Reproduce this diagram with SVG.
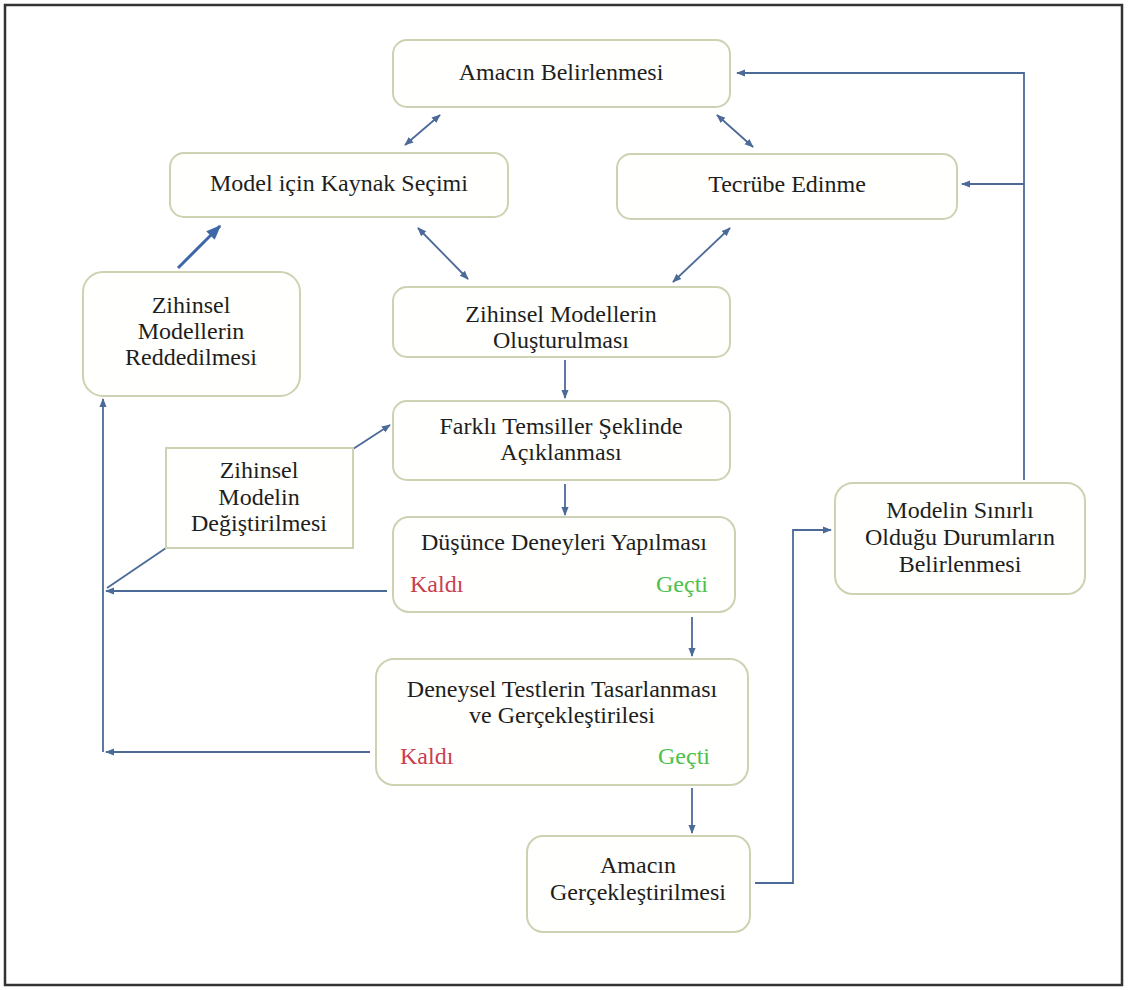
<svg xmlns="http://www.w3.org/2000/svg" width="1128" height="990" viewBox="0 0 1128 990">
<defs>
<style>
.box{fill:#fffffd;stroke:#cdd2b2;stroke-width:2}
.t{font-family:"Liberation Serif","Times New Roman",serif;font-size:24px;fill:#1e1e1e;text-anchor:middle}
.k{font-family:"Liberation Serif","Times New Roman",serif;font-size:24px;fill:#c8404f}
.g{font-family:"Liberation Serif","Times New Roman",serif;font-size:24px;fill:#4cc04c;text-anchor:end}
.c{fill:none;stroke:#4c6a98;stroke-width:1.8}
</style>
<marker id="ah" viewBox="0 0 10 10" refX="9" refY="5" markerWidth="9" markerHeight="9" orient="auto-start-reverse" markerUnits="userSpaceOnUse">
<path d="M0,1 L10,5 L0,9 Z" fill="#4c6a98"/>
</marker>
<marker id="ahb" viewBox="0 0 10 10" refX="9" refY="5" markerWidth="15" markerHeight="15" orient="auto" markerUnits="userSpaceOnUse">
<path d="M0,1 L10,5 L0,9 Z" fill="#3f66a8"/>
</marker>
</defs>
<rect x="0" y="0" width="1128" height="990" fill="#fff"/>
<rect x="5" y="5" width="1117" height="980" fill="none" stroke="#333" stroke-width="2.5"/>

<g id="connectors">
<line class="c" x1="440" y1="115" x2="405" y2="145" marker-start="url(#ah)" marker-end="url(#ah)"/>
<line class="c" x1="717" y1="115" x2="753" y2="147" marker-start="url(#ah)" marker-end="url(#ah)"/>
<line class="c" x1="418" y1="228" x2="468" y2="279" marker-start="url(#ah)" marker-end="url(#ah)"/>
<line class="c" x1="730" y1="228" x2="673" y2="282" marker-start="url(#ah)" marker-end="url(#ah)"/>
<line x1="178" y1="268" x2="220" y2="226" stroke="#3f66a8" stroke-width="3" marker-end="url(#ahb)"/>
<line class="c" x1="565" y1="360" x2="565" y2="398" marker-end="url(#ah)"/>
<line class="c" x1="565" y1="484" x2="565" y2="515" marker-end="url(#ah)"/>
<line class="c" x1="692" y1="617" x2="692" y2="656" marker-end="url(#ah)"/>
<line class="c" x1="692" y1="788" x2="692" y2="833" marker-end="url(#ah)"/>
<polyline class="c" points="755,883 793,883 793,530 831,530" marker-end="url(#ah)"/>
<polyline class="c" points="1024,480 1024,73 737,73" marker-end="url(#ah)"/>
<line class="c" x1="1024" y1="184" x2="962" y2="184" marker-end="url(#ah)"/>
<line class="c" x1="387" y1="591" x2="106" y2="591" marker-end="url(#ah)"/>
<line class="c" x1="166" y1="548" x2="107" y2="588"/>
<line class="c" x1="353" y1="449" x2="390" y2="425" marker-end="url(#ah)"/>
<line class="c" x1="370" y1="752" x2="106" y2="752" marker-end="url(#ah)"/>
<line class="c" x1="103" y1="752" x2="103" y2="399" marker-end="url(#ah)"/>
</g>

<g id="n1"><rect class="box" x="393" y="40" width="337" height="67" rx="14"/><text class="t" x="561" y="80">Amacın Belirlenmesi</text></g>
<g id="n2"><rect class="box" x="170" y="153" width="338" height="64" rx="14"/><text class="t" x="339" y="191">Model için Kaynak Seçimi</text></g>
<g id="n3"><rect class="box" x="617" y="154" width="340" height="65" rx="14"/><text class="t" x="787" y="192">Tecrübe Edinme</text></g>
<g id="n4"><rect class="box" x="83" y="272" width="217" height="124" rx="20"/><text class="t" x="191" y="313">Zihinsel</text><text class="t" x="191" y="339">Modellerin</text><text class="t" x="191" y="365">Reddedilmesi</text></g>
<g id="n5"><rect class="box" x="393" y="287" width="337" height="70" rx="14"/><text class="t" x="561" y="322">Zihinsel Modellerin</text><text class="t" x="561" y="348">Oluşturulması</text></g>
<g id="n6"><rect class="box" x="393" y="401" width="337" height="79" rx="14"/><text class="t" x="561" y="434">Farklı Temsiller Şeklinde</text><text class="t" x="561" y="460">Açıklanması</text></g>
<g id="n7"><rect class="box" x="166" y="448" width="187" height="100"/><text class="t" x="259" y="478">Zihinsel</text><text class="t" x="259" y="505">Modelin</text><text class="t" x="259" y="531">Değiştirilmesi</text></g>
<g id="n8"><rect class="box" x="393" y="517" width="342" height="95" rx="16"/><text class="t" x="564" y="550">Düşünce Deneyleri Yapılması</text><text class="k" x="410" y="592">Kaldı</text><text class="g" x="708" y="592">Geçti</text></g>
<g id="n9"><rect class="box" x="376" y="659" width="372" height="126" rx="18"/><text class="t" x="562" y="697">Deneysel Testlerin Tasarlanması</text><text class="t" x="562" y="723">ve Gerçekleştirilesi</text><text class="k" x="400" y="764">Kaldı</text><text class="g" x="710" y="764">Geçti</text></g>
<g id="n10"><rect class="box" x="527" y="836" width="223" height="96" rx="16"/><text class="t" x="638" y="873">Amacın</text><text class="t" x="638" y="900">Gerçekleştirilmesi</text></g>
<g id="n11"><rect class="box" x="835" y="483" width="250" height="111" rx="18"/><text class="t" x="960" y="518">Modelin Sınırlı</text><text class="t" x="960" y="545">Olduğu Durumların</text><text class="t" x="960" y="572">Belirlenmesi</text></g>
</svg>
